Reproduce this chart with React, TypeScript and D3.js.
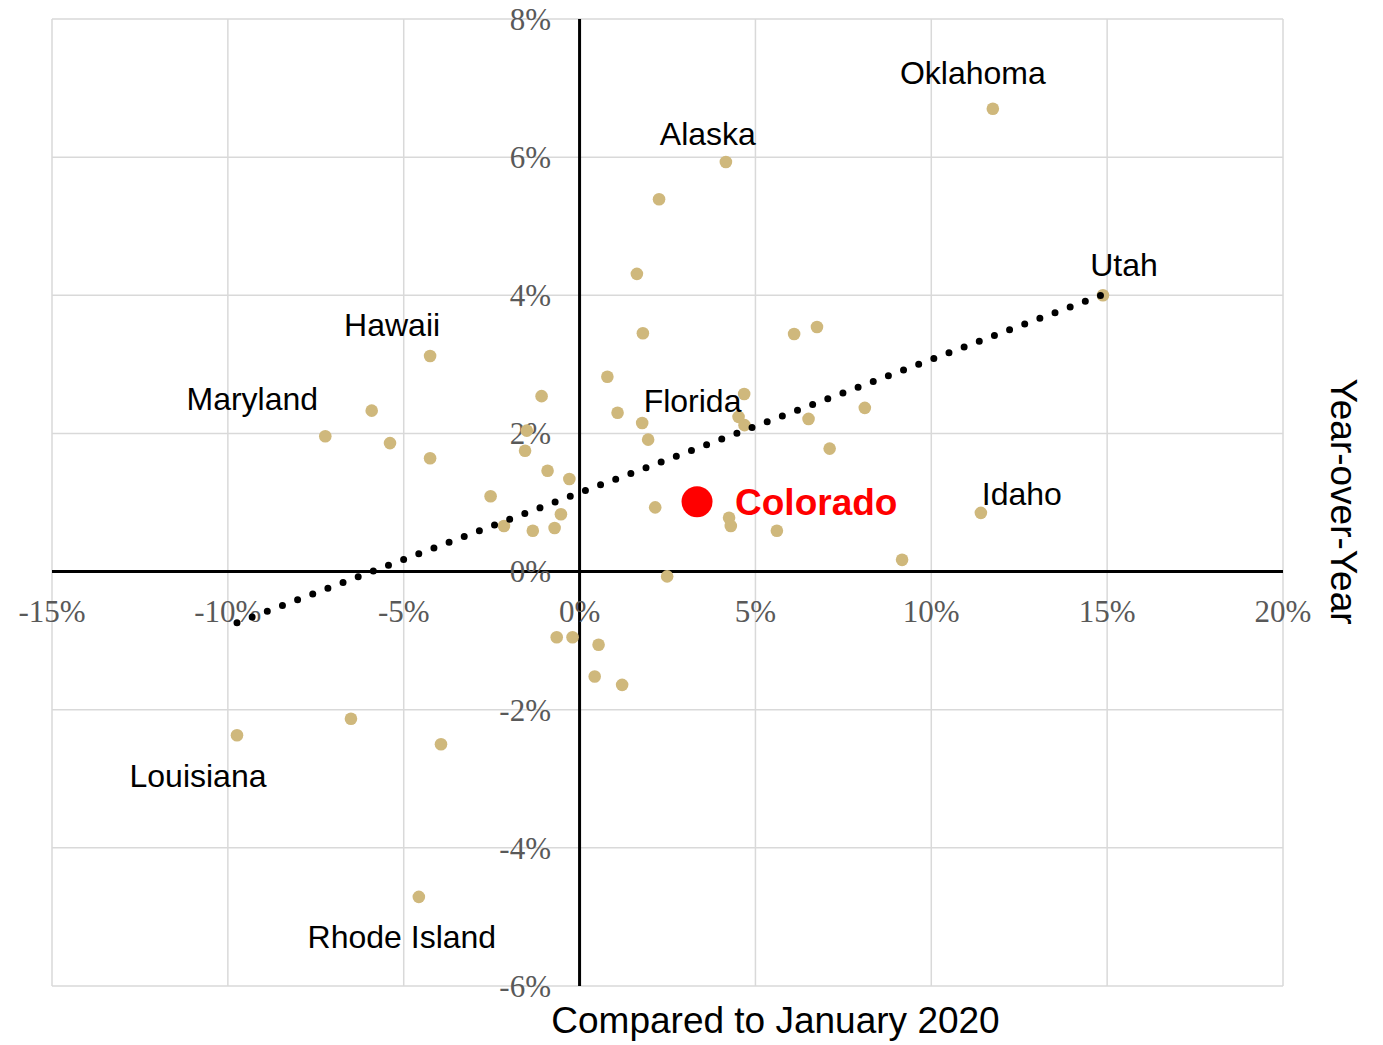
import React from "react";
import * as d3 from "d3";

// Change compared to January 2020 (%)
const compJan2020 = [
  11.75, 4.16, 2.26, 1.63, 14.88, 1.80, 6.10, 6.75, -4.25, 0.79,
  4.68, -1.08, -5.91, 1.08, 4.52, 4.69, 1.78, 6.51, 8.11, -7.23,
  -1.50, 1.95, -5.39, -1.55, 7.11, -4.25, -0.91, -0.29, -2.53, 2.15,
  -0.53, 4.25, 4.30, -2.15, -1.33, -0.71, 5.61, 11.41, 9.17, 2.49,
  -0.65, -0.20, 0.54, 0.43, 1.21, -6.50, -9.74, -3.94, -4.57,
];
// Year-over-year change (%)
const yearOverYear = [
  6.70, 5.93, 5.39, 4.31, 4.00, 3.45, 3.44, 3.54, 3.12, 2.82,
  2.57, 2.54, 2.33, 2.30, 2.24, 2.12, 2.15, 2.21, 2.37, 1.96,
  2.04, 1.91, 1.86, 1.75, 1.78, 1.64, 1.46, 1.34, 1.09, 0.93,
  0.83, 0.78, 0.66, 0.66, 0.59, 0.63, 0.59, 0.85, 0.17, -0.07,
  -0.95, -0.95, -1.06, -1.52, -1.64, -2.13, -2.37, -2.50, -4.71,
];
// Named states (index into arrays above)
const labelNames = ["Oklahoma", "Alaska", "Utah", "Hawaii", "Maryland", "Florida", "Idaho", "Louisiana", "Rhode Island"];
const labelIndex = [0, 1, 4, 8, 19, 14, 37, 46, 48];

const highlightName = "Colorado";
const highlightX = 3.34;
const highlightY = 1.01;

// Trend line
const trendIntercept = 1.14;
const trendSlope = 0.193;
const trendXRange = [-9.74, 14.88];

const xTicks = [-15, -10, -5, 0, 5, 10, 15, 20];
const yTicks = [-6, -4, -2, 0, 2, 4, 6, 8];

// label offsets (px) relative to the point: [dx, dy]
const labelOffsets: Record<string, [number, number]> = {
  Oklahoma: [-20, -25],
  Alaska: [-18, -17],
  Utah: [21, -19],
  Hawaii: [-38, -20],
  Maryland: [-73, -26],
  Florida: [-46, -5],
  Idaho: [41, -8],
  Louisiana: [-39, 52],
  "Rhode Island": [-17, 51],
};

export default function App() {
  const W = 1383, H = 1045;
  const x = d3.scaleLinear().domain([-15, 20]).range([52, 1283]);
  const y = d3.scaleLinear().domain([-6, 8]).range([986, 19]);
  const sans = "'Liberation Sans', Arial, sans-serif";
  const serif = "'Liberation Serif', Georgia, serif";

  const trendLine = d3.line<number>()
    .x((v) => x(v))
    .y((v) => y(trendIntercept + trendSlope * v))(trendXRange);

  return (
    <svg width={W} height={H} style={{ position: "absolute", left: 0, top: 0, background: "#fff" }}>
      {/* grid */}
      {xTicks.map((t) => (
        <line key={"gx" + t} x1={x(t)} x2={x(t)} y1={y(8)} y2={y(-6)} stroke="#d9d9d9" strokeWidth={1.5} />
      ))}
      {yTicks.map((t) => (
        <line key={"gy" + t} x1={x(-15)} x2={x(20)} y1={y(t)} y2={y(t)} stroke="#d9d9d9" strokeWidth={1.5} />
      ))}
      {/* zero axes */}
      <line x1={x(-15)} x2={x(20)} y1={y(0)} y2={y(0)} stroke="#000" strokeWidth={3} />
      <line x1={x(0)} x2={x(0)} y1={y(8)} y2={y(-6)} stroke="#000" strokeWidth={3} />
      {/* tick labels */}
      {xTicks.map((t) => (
        <text key={"tx" + t} x={x(t)} y={622} textAnchor="middle" fontFamily={serif} fontSize={31} fill="#595959">
          {t}%
        </text>
      ))}
      {yTicks.map((t) => (
        <text key={"ty" + t} x={551} y={y(t)} dy="0.35em" textAnchor="end" fontFamily={serif} fontSize={31} fill="#595959">
          {t}%
        </text>
      ))}
      {/* points */}
      {compJan2020.map((v, i) => (
        <circle key={"p" + i} cx={x(v)} cy={y(yearOverYear[i])} r={6.3} fill="#cfb87c" />
      ))}
      {/* trend line */}
      <path d={trendLine || ""} fill="none" stroke="#000" strokeWidth={7} strokeLinecap="round" strokeDasharray="0 16.2" />
      {/* labels */}
      {labelNames.map((name, k) => {
        const i = labelIndex[k];
        const [dx, dy] = labelOffsets[name];
        return (
          <text key={name} x={x(compJan2020[i]) + dx} y={y(yearOverYear[i]) + dy} textAnchor="middle" fontFamily={sans} fontSize={32} fill="#000">
            {name}
          </text>
        );
      })}
      {/* highlight */}
      <circle cx={x(highlightX)} cy={y(highlightY)} r={15.5} fill="#ff0000" />
      <text x={x(highlightX) + 38} y={y(highlightY) + 13} fontFamily={sans} fontSize={37} fontWeight="bold" fill="#ff0000">
        {highlightName}
      </text>
      {/* axis titles */}
      <text x={775.5} y={1033} textAnchor="middle" fontFamily={sans} fontSize={37} fill="#000">
        Compared to January 2020
      </text>
      <text transform={`translate(1331, 501.5) rotate(90)`} textAnchor="middle" fontFamily={sans} fontSize={37} fill="#000">
        Year-over-Year
      </text>
    </svg>
  );
}
